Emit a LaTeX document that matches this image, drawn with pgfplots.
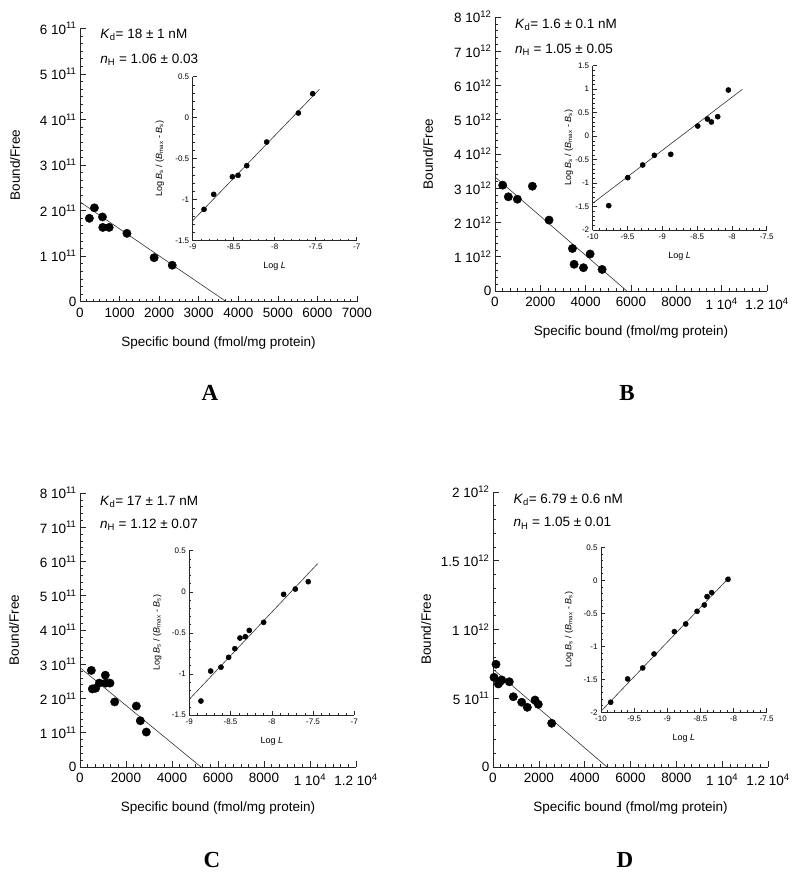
\documentclass[border=0pt]{standalone}
\usepackage{pgfplots}
\pgfplotsset{compat=1.18}
\usepackage{fontspec}
\setmainfont{Liberation Sans}
\newfontfamily\serifbold{Liberation Serif}
\pgfplotsset{
  mainax/.style={
    scale only axis, axis x line*=bottom, axis y line*=left,
    axis line style={line width=0.6pt, black!85},
    tick align=inside, major tick length=6pt, minor tick length=3pt,
    every tick/.style={line width=0.6pt, black!85},
    tick label style={font=\fontsize{13.5}{16}\selectfont},
    label style={font=\fontsize{13.5}{16}\selectfont},
    scaled ticks=false, clip=false,
    xticklabel style={yshift=-3pt},
    xlabel={Specific bound (fmol/mg protein)},
    ylabel={Bound/Free},
    x label style={at={(axis description cs:0.5,0)}, anchor=center, yshift=-41pt},
    ymin=0, xmin=0,
  },
  inset/.style={
    scale only axis, axis x line*=bottom, axis y line*=left,
    axis line style={line width=0.5pt, black!85},
    tick align=inside, major tick length=4pt, minor tick length=2pt,
    every tick/.style={line width=0.5pt, black!85},
    tick label style={font=\fontsize{8}{9}\selectfont},
    label style={font=\fontsize{9}{10}\selectfont},
    clip=false,
    minor x tick num=4, minor y tick num=4,
    xlabel={Log \textit{L}},
    ylabel={Log \textit{B}\textsubscript{s} / (\textit{B}\textsubscript{max} - \textit{B}\textsubscript{s})},
    x label style={at={(axis description cs:0.5,0)}, anchor=center, yshift=-26pt},
  },
  bigdot/.style={only marks, mark=*, mark size=4.2pt, black},
  smalldot/.style={only marks, mark=*, mark size=2.6pt, black},
  fitline/.style={black!80, line width=0.6pt},
}
\newcommand{\st}[1]{\textsuperscript{#1}}
\begin{document}
\begin{tikzpicture}[x=1pt,y=1pt]
\path[use as bounding box] (0,0) rectangle (800,879);

% ---------------- Panel A ----------------
\begin{axis}[mainax, at={(80pt,577.3pt)}, anchor=south west, width=277pt, height=273.4pt,
  xmax=7000, ymax=6e11,
  xtick={0,1000,2000,3000,4000,5000,6000,7000},
  xticklabels={0,1000,2000,3000,4000,5000,6000,7000},
  ytick={0,1e11,2e11,3e11,4e11,5e11,6e11},
  yticklabels={0,1 10\st{11},2 10\st{11},3 10\st{11},4 10\st{11},5 10\st{11},6 10\st{11}},
  minor x tick num=5, minor y tick num=5,
  y label style={at={(axis description cs:-0.2347,0.5)}, anchor=center}]
\addplot[fitline] coordinates {(0,2.19e11) (3700,0)};
\addplot[bigdot] coordinates {(237,1.83e11) (364,2.06e11) (568,1.86e11) (576,1.63e11)
  (737,1.63e11) (1186,1.50e11) (1873,0.966e11) (2331,0.80e11)};
\node[anchor=west, font=\fontsize{13.5}{16}\selectfont] at (rel axis cs:0.061,0.975) {\textit{K}\textsubscript{d}= 18 ± 1 nM};
\node[anchor=west, font=\fontsize{13.5}{16}\selectfont] at (rel axis cs:0.061,0.884) {\textit{n}\textsubscript{H} = 1.06 ± 0.03};
\end{axis}
\begin{axis}[inset, at={(192.7pt,638.3pt)}, anchor=south west, width=164pt, height=164pt,
  xmin=-9, xmax=-7, ymin=-1.5, ymax=0.5,
  xtick={-9,-8.5,-8,-7.5,-7}, xticklabels={-9,-8.5,-8,-7.5,-7},
  ytick={-1.5,-1,-0.5,0,0.5}, yticklabels={-1.5,-1,-0.5,0,0.5},
  y label style={at={(axis description cs:-0.2012,0.5)}, anchor=center}]
\addplot[fitline] coordinates {(-9,-1.256) (-7.455,0.346)};
\addplot[smalldot] coordinates {(-8.862,-1.118) (-8.744,-0.935) (-8.516,-0.72) (-8.447,-0.703)
  (-8.341,-0.585) (-8.098,-0.297) (-7.711,0.057) (-7.537,0.293)};
\end{axis}
\node[font=\serifbold\bfseries\fontsize{23}{25}\selectfont] at (210,486) {A};

% ---------------- Panel B ----------------
\begin{axis}[mainax, at={(495pt,588pt)}, anchor=south west, width=272pt, height=274pt,
  xmax=12000, ymax=8e12,
  xtick={0,2000,4000,6000,8000,10000,12000},
  xticklabels={0,2000,4000,6000,8000,1 10\st{4},1.2 10\st{4}},
  ytick={0,1e12,2e12,3e12,4e12,5e12,6e12,7e12,8e12},
  yticklabels={0,1 10\st{12},2 10\st{12},3 10\st{12},4 10\st{12},5 10\st{12},6 10\st{12},7 10\st{12},8 10\st{12}},
  minor x tick num=5, minor y tick num=4,
  y label style={at={(axis description cs:-0.2463,0.5)}, anchor=center}]
\addplot[fitline] coordinates {(0,3.33e12) (5816,0)};
\addplot[bigdot] coordinates {(339,3.09e12) (589,2.75e12) (986,2.68e12) (1649,3.06e12)
  (2385,2.07e12) (3416,1.24e12) (3490,0.78e12) (3902,0.68e12) (4196,1.08e12) (4726,0.63e12)};
\node[anchor=west, font=\fontsize{13.5}{16}\selectfont] at (rel axis cs:0.061,0.971) {\textit{K}\textsubscript{d}= 1.6 ± 0.1 nM};
\node[anchor=west, font=\fontsize{13.5}{16}\selectfont] at (rel axis cs:0.061,0.88) {\textit{n}\textsubscript{H} = 1.05 ± 0.05};
\end{axis}
\begin{axis}[inset, at={(592.7pt,649pt)}, anchor=south west, width=174pt, height=164.3pt,
  xmin=-10, xmax=-7.5, ymin=-2, ymax=1.5,
  xtick={-10,-9.5,-9,-8.5,-8,-7.5}, xticklabels={-10,-9.5,-9,-8.5,-8,-7.5},
  ytick={-2,-1.5,-1,-0.5,0,0.5,1,1.5}, yticklabels={-2,-1.5,-1,-0.5,0,0.5,1,1.5},
  y label style={at={(axis description cs:-0.1379,0.5)}, anchor=center}]
\addplot[fitline] coordinates {(-10,-1.431) (-7.85,0.996)};
\addplot[smalldot] coordinates {(-9.770,-1.481) (-9.497,-0.885) (-9.282,-0.615) (-9.114,-0.409)
  (-8.879,-0.388) (-8.491,0.215) (-8.352,0.364) (-8.295,0.301) (-8.204,0.414) (-8.051,0.982)};
\end{axis}
\node[font=\serifbold\bfseries\fontsize{23}{25}\selectfont] at (627,486) {B};

% ---------------- Panel C ----------------
\begin{axis}[mainax, at={(80pt,112pt)}, anchor=south west, width=276pt, height=274pt,
  xmax=12000, ymax=8e11,
  xtick={0,2000,4000,6000,8000,10000,12000},
  xticklabels={0,2000,4000,6000,8000,1 10\st{4},1.2 10\st{4}},
  ytick={0,1e11,2e11,3e11,4e11,5e11,6e11,7e11,8e11},
  yticklabels={0,1 10\st{11},2 10\st{11},3 10\st{11},4 10\st{11},5 10\st{11},6 10\st{11},7 10\st{11},8 10\st{11}},
  minor x tick num=5, minor y tick num=4,
  y label style={at={(axis description cs:-0.2391,0.5)}, anchor=center}]
\addplot[fitline] coordinates {(0,2.90e11) (5261,0)};
\addplot[bigdot] coordinates {(493,2.82e11) (536,2.28e11) (681,2.30e11) (841,2.45e11)
  (1101,2.68e11) (1116,2.45e11) (1304,2.45e11) (1507,1.90e11) (2449,1.78e11) (2623,1.35e11) (2884,1.02e11)};
\node[anchor=west, font=\fontsize{13.5}{16}\selectfont] at (rel axis cs:0.06,0.968) {\textit{K}\textsubscript{d}= 17 ± 1.7 nM};
\node[anchor=west, font=\fontsize{13.5}{16}\selectfont] at (rel axis cs:0.06,0.883) {\textit{n}\textsubscript{H} = 1.12 ± 0.07};
\end{axis}
\begin{axis}[inset, at={(189.3pt,164pt)}, anchor=south west, width=165pt, height=164.3pt,
  xmin=-9, xmax=-7, ymin=-1.5, ymax=0.5,
  xtick={-9,-8.5,-8,-7.5,-7}, xticklabels={-9,-8.5,-8,-7.5,-7},
  ytick={-1.5,-1,-0.5,0,0.5}, yticklabels={-1.5,-1,-0.5,0,0.5},
  y label style={at={(axis description cs:-0.1939,0.5)}, anchor=center}]
\addplot[fitline] coordinates {(-9,-1.309) (-7.444,0.342)};
\addplot[smalldot] coordinates {(-8.859,-1.330) (-8.741,-0.965) (-8.616,-0.918) (-8.523,-0.798)
  (-8.448,-0.693) (-8.386,-0.563) (-8.321,-0.547) (-8.273,-0.470) (-8.099,-0.372)
  (-7.857,-0.031) (-7.715,0.033) (-7.558,0.123)};
\end{axis}
\node[font=\serifbold\bfseries\fontsize{23}{25}\selectfont] at (212,19) {C};

% ---------------- Panel D ----------------
\begin{axis}[mainax, at={(493pt,112pt)}, anchor=south west, width=275pt, height=275pt,
  xmax=12000, ymax=2e12,
  xtick={0,2000,4000,6000,8000,10000,12000},
  xticklabels={0,2000,4000,6000,8000,1 10\st{4},1.2 10\st{4}},
  ytick={0,5e11,1e12,1.5e12,2e12},
  yticklabels={0,5 10\st{11},1 10\st{12},1.5 10\st{12},2 10\st{12}},
  minor x tick num=5, minor y tick num=4,
  y label style={at={(axis description cs:-0.2436,0.5)}, anchor=center}]
\addplot[fitline] coordinates {(0,0.712e12) (4975,0)};
\addplot[bigdot] coordinates {(44,0.652e12) (131,0.747e12) (231,0.604e12) (305,0.620e12)
  (380,0.633e12) (711,0.620e12) (886,0.511e12) (1252,0.471e12) (1497,0.434e12)
  (1833,0.487e12) (1977,0.456e12) (2561,0.318e12)};
\node[anchor=west, font=\fontsize{13.5}{16}\selectfont] at (rel axis cs:0.062,0.971) {\textit{K}\textsubscript{d}= 6.79 ± 0.6 nM};
\node[anchor=west, font=\fontsize{13.5}{16}\selectfont] at (rel axis cs:0.062,0.886) {\textit{n}\textsubscript{H} = 1.05 ± 0.01};
\end{axis}
\begin{axis}[inset, at={(601pt,166.7pt)}, anchor=south west, width=165.7pt, height=165pt,
  xmin=-10, xmax=-7.5, ymin=-2, ymax=0.5,
  xtick={-10,-9.5,-9,-8.5,-8,-7.5}, xticklabels={-10,-9.5,-9,-8.5,-8,-7.5},
  ytick={-2,-1.5,-1,-0.5,0,0.5}, yticklabels={-2,-1.5,-1,-0.5,0,0.5},
  y label style={at={(axis description cs:-0.1931,0.5)}, anchor=center}]
\addplot[fitline] coordinates {(-10,-1.985) (-8.053,0.056)};
\addplot[smalldot] coordinates {(-9.854,-1.848) (-9.598,-1.495) (-9.371,-1.328) (-9.200,-1.116)
  (-8.893,-0.778) (-8.722,-0.662) (-8.551,-0.470) (-8.441,-0.374) (-8.400,-0.247)
  (-8.330,-0.187) (-8.084,0.015)};
\end{axis}
\node[font=\serifbold\bfseries\fontsize{23}{25}\selectfont] at (625,19) {D};
\end{tikzpicture}
\end{document}
